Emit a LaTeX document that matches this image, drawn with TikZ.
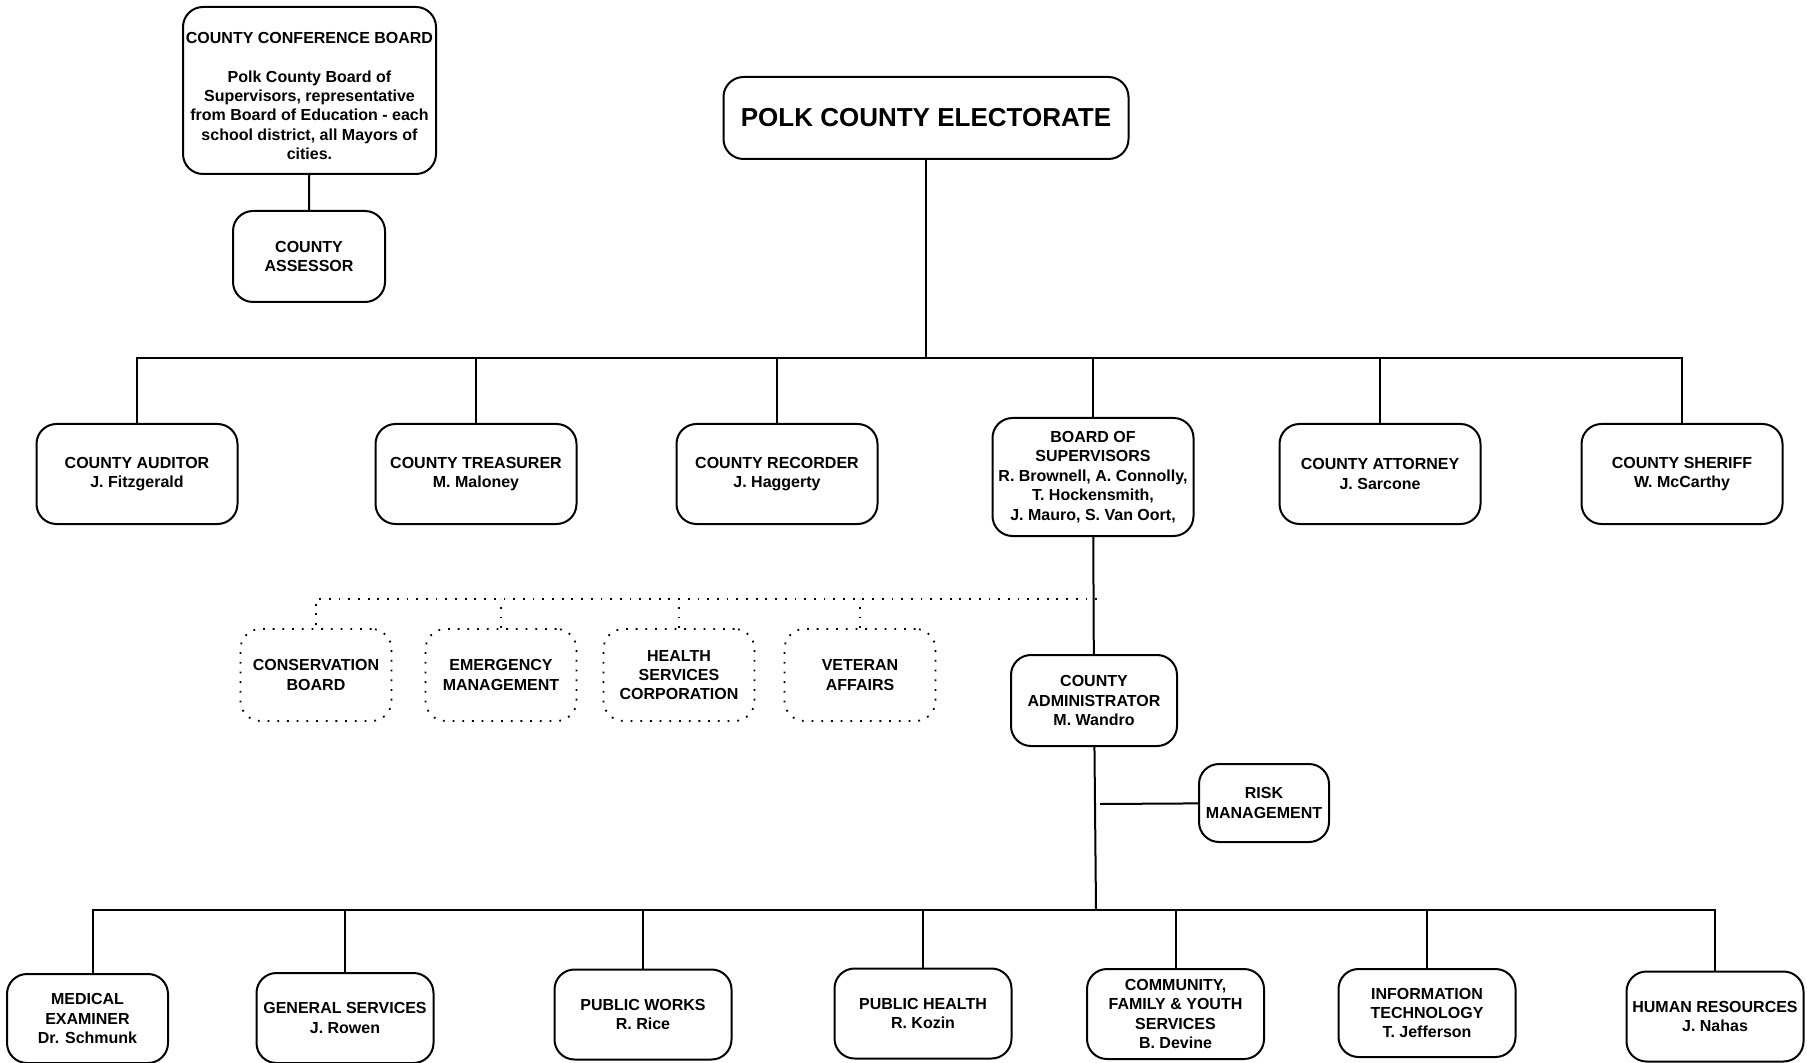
\documentclass[tikz,border=0pt]{standalone}
\usepackage{fontspec}
\setmainfont{Liberation Sans}
\usepackage{tikz}
\usetikzlibrary{calc,positioning}

\tikzset{
  office/.style={draw, rounded corners=10pt, line width=1pt, align=center, inner sep=1pt,
    font=\fontsize{8}{9.7}\selectfont\bfseries},
  rowtwo/.style={office, minimum width=100.5pt, minimum height=50pt},
  rowlow/.style={office, minimum width=88.5pt, minimum height=45pt},
  dotoffice/.style={office, line width=0.9pt, dash pattern=on 0.9pt off 3.95pt,
    minimum width=75.5pt, minimum height=46pt},
  link/.style={line width=1pt},
  dotlink/.style={line width=0.9pt, dash pattern=on 0.9pt off 3.95pt}
}

\begin{document}
\begin{tikzpicture}[x=0.5pt,y=-0.5pt]

\useasboundingbox (0,0) rectangle (1807,1063);

  \node[office, minimum width=126.5pt, minimum height=83.5pt] (conf) at (309.5,90.5)
    {\rule{0pt}{11pt}COUNTY CONFERENCE BOARD\\[9.7pt] Polk County Board of\\ Supervisors, representative\\
     from Board of Education - each\\ school district, all Mayors of\\ cities.};
  \node[office, minimum width=76pt, minimum height=45.5pt] (assessor) at (309,256.5) {COUNTY\\ ASSESSOR};
    \draw[link] (conf) -- (assessor);

  \node[office, minimum width=202.5pt, minimum height=41pt,
    font=\fontsize{13}{15}\selectfont\bfseries] (elect) at (926,118) {POLK COUNTY ELECTORATE};

%  second row
  \node[rowtwo] (auditor) at (137,474) {COUNTY AUDITOR\\ J. Fitzgerald};
  \node[rowtwo] (treasurer) at (476,474) {COUNTY TREASURER\\ M. Maloney};
  \node[rowtwo] (recorder) at (777,474) {COUNTY RECORDER\\ J. Haggerty};
  \node[rowtwo, minimum height=59pt] (board) at (1093,477)
    {BOARD OF\\ SUPERVISORS\\ R. Brownell, A. Connolly,\\ T. Hockensmith,\\ J. Mauro, S. Van Oort,};
  \node[rowtwo] (attorney) at (1380,474) {COUNTY ATTORNEY\\ J. Sarcone};
  \node[rowtwo] (sheriff) at (1682,474) {COUNTY SHERIFF\\ W. McCarthy};

    \coordinate (topbus) at (926,358);
    \draw[link] (elect) -- (topbus);
    \foreach \n in {auditor,treasurer,recorder,board,attorney,sheriff}
      \draw[link] (\n.north) |- (topbus);

%  boards outside the line
  \node[dotoffice] (conserv) at (316,675) {CONSERVATION\\ BOARD};
  \node[dotoffice] (emerg) at (501,675) {EMERGENCY\\ MANAGEMENT};
  \node[dotoffice] (health) at (679,675) {HEALTH\\ SERVICES\\ CORPORATION};
  \node[dotoffice] (veteran) at (860,675) {VETERAN\\ AFFAIRS};

    \coordinate (dotbus) at (1097,599);
    \draw[dotlink] (dotbus) -| (conserv.north);
    \foreach \n in {emerg,health,veteran}
      \draw[dotlink] (\n.north) -- (\n.north |- dotbus);

  \node[office, minimum width=83pt, minimum height=45.5pt] (admin) at (1094,700.5)
    {COUNTY\\ ADMINISTRATOR\\ M. Wandro};
    \draw[link] (board) -- (admin);

  \node[office, minimum width=65pt, minimum height=39pt] (risk) at (1264,803) {RISK\\ MANAGEMENT};
    \coordinate (riskjoin) at (1100,804);
    \draw[link] (riskjoin) -- (risk);

%  bottom row
  \node[rowlow, minimum width=80.5pt, minimum height=44.5pt] (medical) at (87.5,1018.5) {MEDICAL\\ EXAMINER\\ Dr. Schmunk};
  \node[rowlow] (general) at (345,1018) {GENERAL SERVICES\\ J. Rowen};
  \node[rowlow] (works) at (643,1014.5) {PUBLIC WORKS\\ R. Rice};
  \node[rowlow] (pubhealth) at (923,1013.5) {PUBLIC HEALTH\\ R. Kozin};
  \node[rowlow] (community) at (1175.5,1014) {COMMUNITY,\\ FAMILY \& YOUTH\\ SERVICES\\ B. Devine};
  \node[rowlow, minimum height=44pt] (infotech) at (1427,1013) {INFORMATION\\ TECHNOLOGY\\ T. Jefferson};
  \node[rowlow] (human) at (1715,1016.5) {HUMAN RESOURCES\\ J. Nahas};

    \coordinate (lowbus) at (1096,910);
    \draw[link] (admin) -- (lowbus);
    \draw[link] ($(medical.north)+(5.5,0)$) |- (lowbus);
    \foreach \n in {general,works,pubhealth,community,infotech,human}
      \draw[link] (\n.north) |- (lowbus);

\end{tikzpicture}
\end{document}
